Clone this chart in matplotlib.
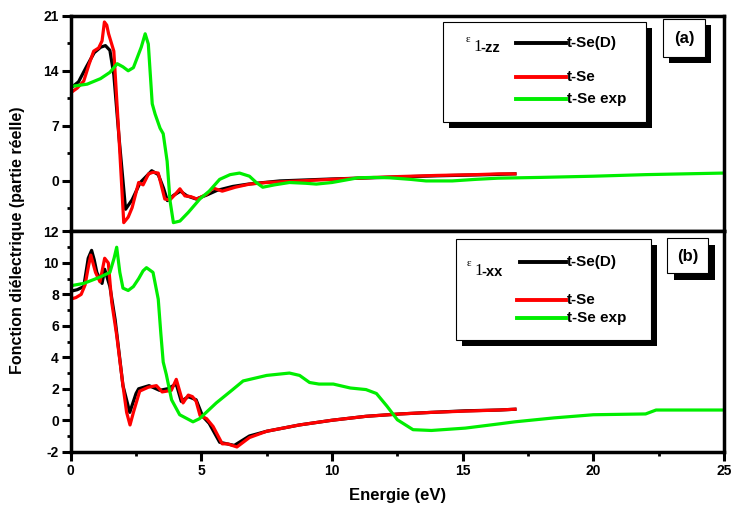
import matplotlib.pyplot as plt
from matplotlib.patches import Rectangle
from matplotlib.lines import Line2D
from matplotlib.ticker import MultipleLocator

plt.rcParams["font.family"] = ["Liberation Sans", "DejaVu Sans"]
plt.rcParams["font.weight"] = "bold"
plt.rcParams["axes.unicode_minus"] = False

# panel (a) : eps1 zz
zz_x_d = [0, 0.3, 0.6, 0.9, 1.15, 1.33, 1.5, 1.65, 1.85, 2.1, 2.35, 2.66, 2.9, 3.1, 3.35,
          3.55, 3.7, 3.95, 4.2, 4.45, 4.8, 5.2, 5.6, 6.2, 6.8, 8, 10, 12, 14, 16, 17]
zz_y_d = [11.8, 12.6, 14.5, 16.3, 17.0, 17.2, 16.6, 13.5, 5.5, -3.6, -2.4, -0.2, 0.6, 1.3, 0.8,
          -0.9, -2.5, -1.8, -1.3, -1.9, -2.3, -1.8, -1.2, -0.7, -0.4, 0.0, 0.25, 0.45, 0.65, 0.8, 0.9]

zz_x = [0, 0.25, 0.5, 0.7, 0.88, 1.07, 1.2, 1.29, 1.38, 1.45, 1.65, 1.84, 2.03, 2.2, 2.35,
        2.6, 2.77, 2.98, 3.15, 3.35, 3.6, 3.8, 4.0, 4.18, 4.37, 4.6, 4.83, 5.2, 5.45, 5.8,
        6.3, 6.85, 7.5, 8.75, 10, 11.3, 12.5, 14, 15.5, 16.4, 17]
zz_y = [11.2, 11.8, 12.7, 14.8, 16.5, 16.9, 17.8, 20.2, 19.8, 18.7, 16.5, 6.0, -5.3, -4.6, -3.4,
        -0.2, -0.5, 0.9, 1.1, 1.0, -2.3, -2.4, -1.7, -1.0, -1.9, -2.0, -2.3, -1.7, -0.9, -1.3,
        -0.8, -0.4, -0.2, 0.0, 0.2, 0.4, 0.55, 0.7, 0.8, 0.9, 0.9]

zz_x_exp = [0, 0.63, 1.14, 1.5, 1.78, 2.0, 2.2, 2.4, 2.55, 2.7, 2.85, 2.97, 3.12, 3.23, 3.42,
            3.54, 3.69, 3.8, 3.93, 4.18, 4.5, 4.94, 5.3, 5.7, 6.1, 6.46, 6.84, 7.1, 7.35, 7.8,
            8.37, 9.0, 9.4, 10, 10.5, 11, 11.6, 12.2, 13.0, 13.6, 14.6, 15.5, 16.35, 18, 20,
            22, 23.5, 25]
zz_y_exp = [12.0, 12.3, 13.0, 13.8, 14.9, 14.5, 14.0, 14.4, 15.7, 17.0, 18.7, 17.4, 9.8, 8.5, 6.7,
            6.0, 2.5, -2.5, -5.3, -5.1, -4.0, -2.3, -1.3, 0.2, 0.8, 1.0, 0.6, -0.2, -0.8, -0.5,
            -0.2, -0.3, -0.4, -0.2, 0.1, 0.4, 0.45, 0.4, 0.2, 0.0, 0.0, 0.2, 0.35, 0.45, 0.6,
            0.8, 0.9, 1.0]

# panel (b) : eps1 xx
xx_x_d = [0, 0.25, 0.5, 0.67, 0.8, 0.9, 1.0, 1.2, 1.3, 1.5, 1.7, 2.0, 2.26, 2.5, 2.6, 3.0, 3.4,
          3.7, 4.04, 4.23, 4.5, 4.8, 5.05, 5.3, 5.7, 6.26, 6.84, 7.5, 8.75, 10, 11.3, 12.6,
          13.8, 15.1, 16.4, 17]
xx_y_d = [8.2, 8.3, 8.5, 10.3, 10.8, 10.2, 9.4, 8.7, 9.6, 8.5, 6.4, 2.2, 0.5, 1.7, 2.0, 2.2, 1.9,
          2.0, 2.3, 1.2, 1.5, 1.3, 0.25, -0.2, -1.4, -1.6, -1.0, -0.7, -0.3, 0.0, 0.25, 0.4,
          0.5, 0.6, 0.65, 0.7]

xx_x = [0, 0.2, 0.4, 0.55, 0.68, 0.77, 0.95, 1.12, 1.3, 1.44, 1.57, 1.76, 2.0, 2.14, 2.27, 2.4,
        2.64, 2.97, 3.28, 3.5, 3.85, 4.04, 4.3, 4.5, 4.66, 4.8, 4.95, 5.2, 5.45, 5.8, 6.0,
        6.36, 6.84, 7.5, 8.75, 10, 11.3, 12.6, 13.8, 15.1, 16.4, 17]
xx_y = [7.7, 7.8, 8.0, 8.6, 9.8, 10.5, 9.4, 8.8, 10.3, 10.0, 7.5, 5.4, 2.2, 0.5, -0.3, 0.5,
        1.85, 2.1, 2.2, 1.8, 1.9, 2.6, 1.1, 1.6, 1.5, 1.2, 0.3, 0.1, -0.4, -1.5, -1.5,
        -1.7, -1.1, -0.7, -0.3, 0.0, 0.25, 0.4, 0.5, 0.58, 0.65, 0.7]

xx_x_exp = [0, 0.5, 1.12, 1.5, 1.66, 1.76, 1.88, 2.0, 2.2, 2.4, 2.6, 2.77, 2.9, 3.15, 3.35, 3.45,
            3.54, 3.66, 3.86, 4.17, 4.68, 4.93, 5.57, 6.2, 6.6, 7.5, 8.37, 8.76, 9.14, 9.5,
            10.05, 10.7, 11.3, 11.7, 12.1, 12.5, 13.1, 13.8, 15.1, 16.4, 17, 18.5, 20, 22,
            22.4, 23.5, 25]
xx_y_exp = [8.55, 8.7, 9.1, 9.4, 10.3, 11.0, 9.4, 8.4, 8.25, 8.5, 9.0, 9.5, 9.7, 9.4, 7.7, 5.5,
            3.7, 2.9, 1.3, 0.35, -0.1, 0.1, 1.1, 1.95, 2.5, 2.85, 3.0, 2.85, 2.4, 2.3,
            2.3, 2.05, 1.95, 1.7, 0.9, 0.03, -0.6, -0.65, -0.5, -0.23, -0.1, 0.15, 0.35, 0.4,
            0.65, 0.65, 0.65]

labels = ["t-Se(D)", "t-Se", "t-Se exp"]
colors = ["black", "red", "#00ee00"]

W, H = 733, 511
fig = plt.figure(figsize=(W / 100, H / 100), dpi=100)


def fx(px):
    return px / W


def fy(py):
    return 1 - py / H


ax_a = fig.add_axes([fx(70.7), fy(230.5), fx(724) - fx(70.7), fy(15.7) - fy(230.5)])
ax_b = fig.add_axes([fx(70.7), fy(451.7), fx(724) - fx(70.7), fy(231.5) - fy(451.7)])

series_a = [(zz_x_d, zz_y_d), (zz_x, zz_y), (zz_x_exp, zz_y_exp)]
series_b = [(xx_x_d, xx_y_d), (xx_x, xx_y), (xx_x_exp, xx_y_exp)]

for ax, series in [(ax_a, series_a), (ax_b, series_b)]:
    for (x, y), c in zip(series, colors):
        ax.plot(x, y, color=c, linewidth=2.3)
    ax.set_xlim(0, 25)
    for sp in ax.spines.values():
        sp.set_linewidth(2.5)
    ax.tick_params(which="major", direction="out", length=6.5, width=2.2, labelsize=10, pad=2)
    ax.tick_params(which="minor", direction="out", length=3, width=2)
    ax.xaxis.set_major_locator(MultipleLocator(5))
    ax.xaxis.set_minor_locator(MultipleLocator(2.5))

ax_a.set_ylim(-6.3, 21)
ax_a.set_yticks([0, 7, 14, 21])
ax_a.yaxis.set_minor_locator(MultipleLocator(3.5))
ax_a.tick_params(axis="x", labelbottom=False, length=0, which="both")

ax_b.set_ylim(-2, 12)
ax_b.set_yticks(range(-2, 13, 2))
ax_b.yaxis.set_minor_locator(MultipleLocator(1))
for ax in (ax_a, ax_b):
    for lab in ax.get_xticklabels() + ax.get_yticklabels():
        lab.set_fontweight("bold")

fig.text(fx(398), fy(495), "Energie (eV)", ha="center", va="center", fontsize=12, fontweight="bold")
fig.text(fx(18), fy(240), "Fonction diélectrique (partie réelle)", ha="center", va="center",
         rotation=90, fontsize=11.5, fontweight="bold")


def box(x0, y0, x1, y1, shift):
    # shadow first, then white framed box
    fig.add_artist(Rectangle((fx(x0 + shift), fy(y1 + shift)), fx(x1) - fx(x0), fy(y0) - fy(y1),
                             transform=fig.transFigure, facecolor="black", edgecolor="none"))
    fig.add_artist(Rectangle((fx(x0), fy(y1)), fx(x1) - fx(x0), fy(y0) - fy(y1),
                             transform=fig.transFigure, facecolor="white", edgecolor="black",
                             linewidth=0.8))


def legend_block(x0, y0, x1, y1, rows, eps_xy, comp):
    box(x0, y0, x1, y1, 6)
    for (ly, lx0), c, lab in zip(rows, colors, labels):
        fig.add_artist(Line2D([fx(lx0), fx(566)], [fy(ly), fy(ly)], transform=fig.transFigure,
                              color=c, linewidth=2.8))
        fig.text(fx(567), fy(ly), lab, ha="left", va="center", fontsize=11, fontweight="bold")
    ex, ey = eps_xy
    fig.text(fx(ex), fy(ey), "ε", ha="left", va="center", fontsize=8, fontweight="normal",
             family="Liberation Serif")
    fig.text(fx(ex + 7), fy(ey + 7), "1", ha="left", va="center", fontsize=12,
             fontweight="normal", family="Liberation Serif")
    fig.text(fx(ex + 14), fy(ey + 8), "-" + comp, ha="left", va="center", fontsize=10.5,
             fontweight="bold")


legend_block(443, 22, 646, 122, [(43, 516), (77, 516), (99, 516)], (466, 40), "zz")
legend_block(456, 239, 651, 340, [(262, 520), (300, 517), (318, 517)], (467, 264), "xx")

box(663, 19, 705, 57, 6)
fig.text(fx(684), fy(38), "(a)", ha="center", va="center", fontsize=12, fontweight="bold")
box(667, 238, 708, 273, 7)
fig.text(fx(687.5), fy(256), "(b)", ha="center", va="center", fontsize=12, fontweight="bold")

fig.savefig("out.png", dpi=100)
